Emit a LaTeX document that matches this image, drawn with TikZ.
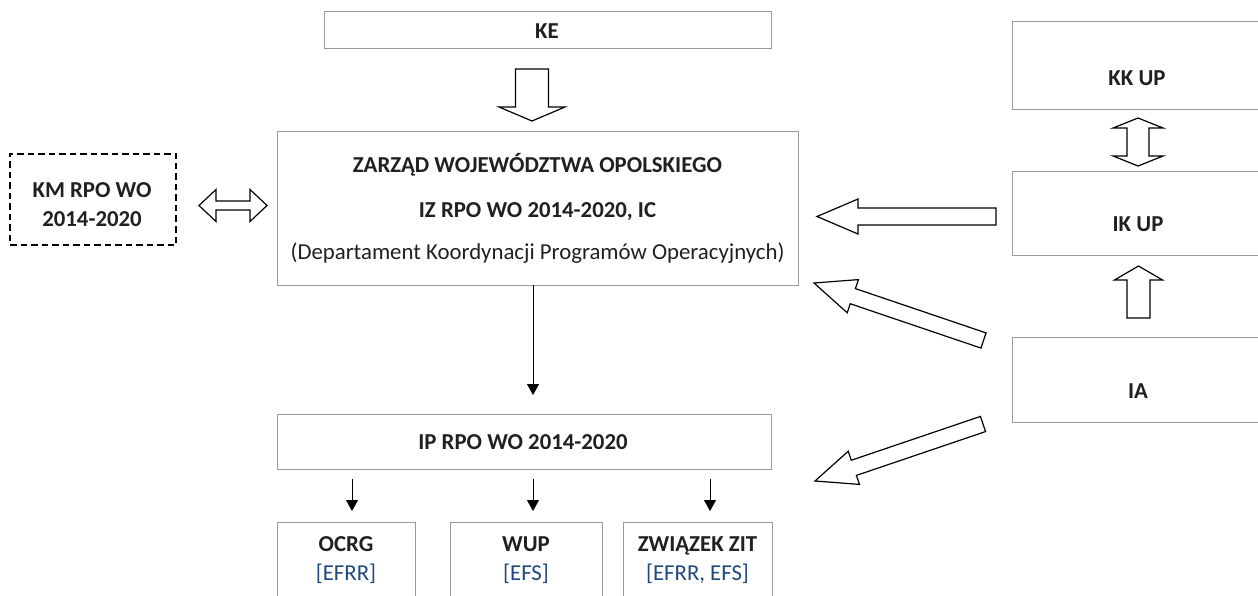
\documentclass[tikz,border=0pt]{standalone}
\usepackage{fontspec}
\setmainfont{Carlito}
\usetikzlibrary{calc,arrows.meta}
\definecolor{boxgray}{HTML}{9A9A9A}
\definecolor{txt}{HTML}{231F20}
\definecolor{efblue}{HTML}{1F497D}
% single block arrow: tail, tip, half shaft, half head, head length
\newcommand\blkarrow[5]{%
  \coordinate (bah) at ($(#2)!#5!(#1)$);
  \draw[blkarr] ($(#1)!#3!90:(#2)$) -- ($(bah)!#3!90:(#2)$) -- ($(bah)!#4!90:(#2)$) -- (#2)
    -- ($(bah)!#4!-90:(#2)$) -- ($(bah)!#3!-90:(#2)$) -- ($(#1)!#3!-90:(#2)$) -- cycle;}
% double block arrow: end A, end B, half shaft, half head, head length
\newcommand\dblarrow[5]{%
  \coordinate (bha) at ($(#1)!#5!(#2)$);
  \coordinate (bhb) at ($(#2)!#5!(#1)$);
  \draw[blkarr] (#1) -- ($(bha)!#4!90:(#2)$) -- ($(bha)!#3!90:(#2)$) -- ($(bhb)!#3!90:(#2)$)
    -- ($(bhb)!#4!90:(#2)$) -- (#2) -- ($(bhb)!#4!-90:(#2)$) -- ($(bhb)!#3!-90:(#2)$)
    -- ($(bha)!#3!-90:(#2)$) -- ($(bha)!#4!-90:(#2)$) -- cycle;}
\begin{document}
\begin{tikzpicture}[x=1pt,y=-1pt,
  box/.style={draw=boxgray,line width=1pt,inner sep=0pt,outer sep=0pt,fill=white},
  dbox/.style={draw=black,line width=1.2pt,dash pattern=on 6.5pt off 4pt,inner sep=0pt,outer sep=0pt},
  lbl/.style={anchor=base,inner sep=0pt,text=txt,font=\fontsize{22.8pt}{26pt}\selectfont\bfseries},
  rlbl/.style={anchor=base,inner sep=0pt,text=txt,font=\fontsize{22.8pt}{26pt}\selectfont},
  blbl/.style={anchor=base,inner sep=0pt,text=efblue,font=\fontsize{22.8pt}{26pt}\selectfont},
  blkarr/.style={draw=black,line width=1.2pt,line join=miter,fill=white},
  thinarr/.style={draw=black,line width=0.9pt,-{Triangle[length=11pt,width=12pt]}}]
\useasboundingbox (0,0) rectangle (1258,596);
\clip (0,0) rectangle (1258,596);
\fill[white] (0,0) rectangle (1258,596);
% boxes
\node[box,minimum width=447pt,minimum height=37pt] (ke) at (547.5,30.5) {};
\node[box,minimum width=521pt,minimum height=153pt] (zw) at (537.5,208.5) {};
\node[dbox,minimum width=166pt,minimum height=91pt] (km) at (93,199.5) {};
\node[box,minimum width=258pt,minimum height=88pt] (kk) at (1141,66) {};
\node[box,minimum width=258pt,minimum height=83pt] (ik) at (1141,213.5) {};
\node[box,minimum width=258pt,minimum height=85pt] (ia) at (1141,379.5) {};
\node[box,minimum width=494pt,minimum height=55pt] (ip) at (524,441.5) {};
\node[box,minimum width=138pt,minimum height=98pt] (ocrg) at (346,571) {};
\node[box,minimum width=152pt,minimum height=98pt] (wup) at (526,571) {};
\node[box,minimum width=149pt,minimum height=98pt] (zit) at (697.5,571) {};
% labels
\node[lbl] (ket) at (547,38.5) {KE};
\node[lbl] (zw1) at (537.5,173) {ZARZĄD WOJEWÓDZTWA OPOLSKIEGO};
\node[lbl] (zw2) at (537.5,218) {IZ RPO WO 2014-2020, IC};
\node[rlbl] (zw3) at (537.5,259) {(Departament Koordynacji Programów Operacyjnych)};
\node[lbl] (km1) at (92,197) {KM RPO WO};
\node[lbl] (km2) at (92,226) {2014-2020};
\node[lbl] (kkt) at (1137,86) {KK UP};
\node[lbl] (ikt) at (1138,232) {IK UP};
\node[lbl] (iat) at (1138,398) {IA};
\node[lbl] (ipt) at (523,449) {IP RPO WO 2014-2020};
\node[lbl] (oc1) at (346,551) {OCRG};
\node[blbl] (oc2) at (346,580) {[EFRR]};
\node[lbl] (wu1) at (526,551) {WUP};
\node[blbl] (wu2) at (526,580) {[EFS]};
\node[lbl] (zi1) at (697.5,551) {ZWIĄZEK ZIT};
\node[blbl] (zi2) at (697.5,580) {[EFRR, EFS]};
% block arrow end points
\coordinate (keT) at (532,69);      \coordinate (keP) at (532,121);
\coordinate (kmA) at (199,205.5);   \coordinate (kmB) at (267,205.5);
\coordinate (kkA) at (1138,118);    \coordinate (kkB) at (1138,166);
\coordinate (ikT) at (996,216.5);   \coordinate (ikP) at (817,216.5);
\coordinate (ia1T) at (983.5,340.5);\coordinate (ia1P) at (814,283);
\coordinate (ia2T) at (983,424);    \coordinate (ia2P) at (815,481);
\coordinate (ia3T) at (1138.5,318); \coordinate (ia3P) at (1138.5,266);
\blkarrow{keT}{keP}{16.5pt}{33pt}{14pt}
\dblarrow{kmA}{kmB}{4.5pt}{16pt}{17pt}
\dblarrow{kkA}{kkB}{11pt}{25pt}{10pt}
\blkarrow{ikT}{ikP}{8.5pt}{17.5pt}{41pt}
\blkarrow{ia1T}{ia1P}{8pt}{17.5pt}{41pt}
\blkarrow{ia2T}{ia2P}{8pt}{17.5pt}{41pt}
\blkarrow{ia3T}{ia3P}{11.5pt}{24pt}{14pt}
% thin arrows
\coordinate (c1) at (533,0);
\coordinate (c2) at (352,0);
\coordinate (c3) at (710,0);
\draw[thinarr,shorten >=19pt] (zw.south -| c1) -- (ip.north -| c1);
\draw[thinarr,shorten <=10pt,shorten >=11pt] (ip.south -| c2) -- (ocrg.north -| c2);
\draw[thinarr,shorten <=10pt,shorten >=11pt] (ip.south -| c1) -- (wup.north -| c1);
\draw[thinarr,shorten <=10pt,shorten >=11pt] (ip.south -| c3) -- (zit.north -| c3);
\end{tikzpicture}
\end{document}
